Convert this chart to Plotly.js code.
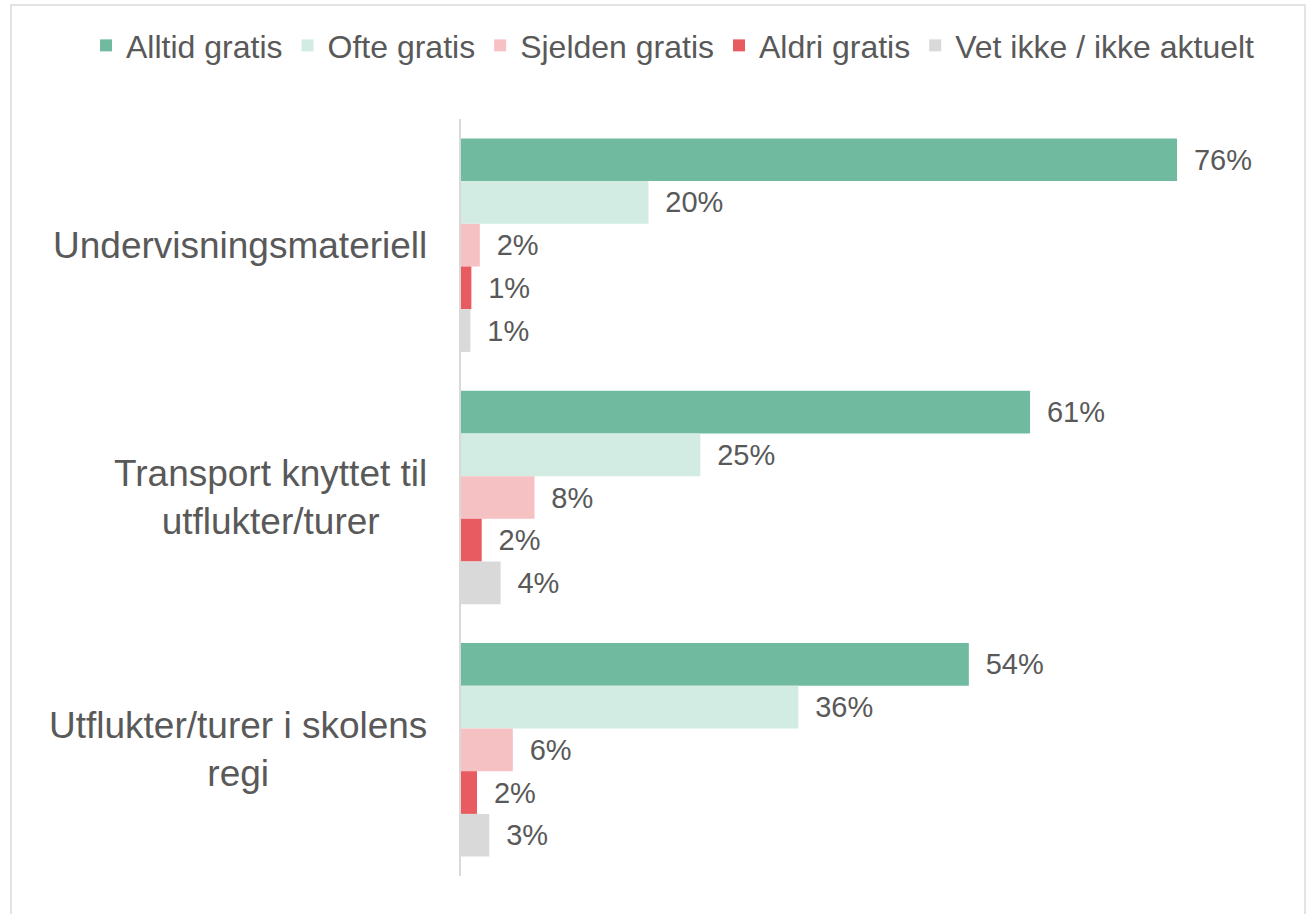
<!DOCTYPE html>
<html>
<head>
<meta charset="utf-8">
<script src="https://cdn.plot.ly/plotly-3.0.1.min.js"></script>
<style>
  html, body { margin: 0; padding: 0; background: #ffffff; overflow: hidden; }
  #frame { position: absolute; left: 10px; top: 4px; width: 1292px; height: 930px; border: 2px solid #E3E3E3; box-sizing: content-box; }
  #chart { position: absolute; left: 12px; top: 6px; width: 1290px; height: 908px; }
</style>
</head>
<body>
<div id="frame"></div>
<div id="chart"></div>
<script>
// Categories (top to bottom)
var categories = ["Undervisningsmateriell", "Transport knyttet til<br>utflukter/turer", "Utflukter/turer i skolens<br>regi"];

// Series names
var seriesNames = ["Alltid gratis", "Ofte gratis", "Sjelden gratis", "Aldri gratis", "Vet ikke / ikke aktuelt"];

// Bar lengths (percent)
var alltid  = [76.0, 60.4, 53.9];
var ofte    = [19.9, 25.4, 35.8];
var sjelden = [2.0, 7.8, 5.5];
var aldri   = [1.1, 2.2, 1.7];
var vetIkke = [1.0, 4.2, 3.0];

// Printed data labels
var alltidLabels  = ["76%", "61%", "54%"];
var ofteLabels    = ["20%", "25%", "36%"];
var sjeldenLabels = ["2%", "8%", "6%"];
var aldriLabels   = ["1%", "2%", "2%"];
var vetIkkeLabels = ["1%", "4%", "3%"];

var colors = ["#70BB9F", "#D2ECE4", "#F6C1C3", "#E85B60", "#D9D9D9"];
var values = [alltid, ofte, sjelden, aldri, vetIkke];
var labels = [alltidLabels, ofteLabels, sjeldenLabels, aldriLabels, vetIkkeLabels];

var textColor = "#595959";
var fontFam = "Liberation Sans, Arial, sans-serif";

var traces = seriesNames.map(function (name, i) {
  return {
    type: "bar",
    orientation: "h",
    name: name,
    y: categories,
    x: values[i],
    text: labels[i].map(function (t) { return "\u00A0\u2009" + t; }),
    textposition: "outside",
    constraintext: "none",
    cliponaxis: false,
    textfont: { family: fontFam, size: 29, color: textColor },
    marker: { color: colors[i], line: { width: 0 } },
    hoverinfo: "skip"
  };
});

var annotations = categories.map(function (c) {
  return {
    xref: "paper", yref: "y",
    x: 0, y: c,
    xshift: -32,
    xanchor: "right", yanchor: "middle",
    align: "center",
    text: c,
    showarrow: false,
    font: { family: fontFam, size: 37, color: textColor }
  };
});

var layout = {
  width: 1290,
  height: 908,
  margin: { l: 449, r: 59, t: 113, b: 38, pad: 0, autoexpand: false },
  paper_bgcolor: "rgba(0,0,0,0)",
  plot_bgcolor: "rgba(0,0,0,0)",
  barmode: "group",
  bargap: 0.154,
  bargroupgap: 0,
  showlegend: true,
  hovermode: false,
  font: { family: fontFam, color: textColor },
  legend: {
    orientation: "h",
    xref: "paper", yref: "paper",
    x: -0.4795, xanchor: "left",
    y: 1.097, yanchor: "middle",
    font: { family: fontFam, size: 32, color: textColor },
    itemwidth: 30,
    tracegroupgap: 0,
    traceorder: "normal"
  },
  xaxis: {
    range: [0, 83],
    showgrid: false,
    zeroline: false,
    showline: false,
    showticklabels: false,
    ticks: ""
  },
  yaxis: {
    autorange: "reversed",
    showgrid: false,
    zeroline: false,
    showline: true,
    linecolor: "#D9D9D9",
    linewidth: 2,
    showticklabels: false,
    ticks: ""
  },
  annotations: annotations
};

Plotly.newPlot("chart", traces, layout, { displayModeBar: false, staticPlot: true });
</script>
</body>
</html>
